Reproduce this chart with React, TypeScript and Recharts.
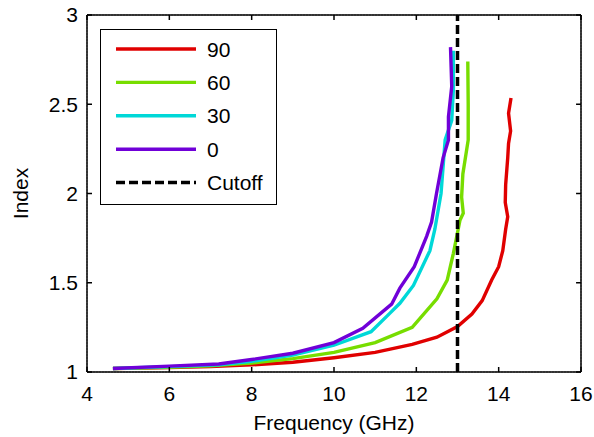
import React from "react";
import { LineChart, Line, XAxis, YAxis, CartesianGrid, ReferenceLine } from "recharts";

type Pt = { x: number; y: number };

// Effective index versus frequency for each rotation angle (degrees)
const series90: Pt[] = [
  { x: 4.63, y: 1.02 }, { x: 6, y: 1.025 }, { x: 7, y: 1.03 }, { x: 8, y: 1.04 },
  { x: 9, y: 1.055 }, { x: 10, y: 1.08 }, { x: 11, y: 1.11 }, { x: 11.9, y: 1.155 },
  { x: 12.5, y: 1.195 }, { x: 13.0, y: 1.255 }, { x: 13.35, y: 1.325 }, { x: 13.6, y: 1.4 },
  { x: 13.83, y: 1.515 }, { x: 14.0, y: 1.59 }, { x: 14.1, y: 1.68 }, { x: 14.17, y: 1.8 },
  { x: 14.22, y: 1.87 }, { x: 14.16, y: 1.95 }, { x: 14.17, y: 2.05 }, { x: 14.22, y: 2.2 },
  { x: 14.24, y: 2.28 }, { x: 14.29, y: 2.35 }, { x: 14.24, y: 2.45 }, { x: 14.3, y: 2.535 },
];
const series60: Pt[] = [
  { x: 4.63, y: 1.02 }, { x: 6, y: 1.027 }, { x: 7, y: 1.035 }, { x: 8, y: 1.05 },
  { x: 9, y: 1.075 }, { x: 10, y: 1.11 }, { x: 11, y: 1.165 }, { x: 11.9, y: 1.25 },
  { x: 12.5, y: 1.41 }, { x: 12.75, y: 1.515 }, { x: 12.9, y: 1.665 }, { x: 13.06, y: 1.85 },
  { x: 13.14, y: 1.89 }, { x: 13.1, y: 1.98 }, { x: 13.13, y: 2.11 }, { x: 13.26, y: 2.3 },
  { x: 13.26, y: 2.5 }, { x: 13.25, y: 2.74 },
];
const series30: Pt[] = [
  { x: 4.63, y: 1.02 }, { x: 6, y: 1.03 }, { x: 7.2, y: 1.04 }, { x: 8, y: 1.06 },
  { x: 9, y: 1.095 }, { x: 10, y: 1.15 }, { x: 10.9, y: 1.226 }, { x: 11.36, y: 1.33 },
  { x: 11.6, y: 1.385 }, { x: 11.93, y: 1.485 }, { x: 12.33, y: 1.68 }, { x: 12.45, y: 1.8 },
  { x: 12.6, y: 2.0 }, { x: 12.7, y: 2.3 }, { x: 12.86, y: 2.41 }, { x: 12.9, y: 2.58 },
  { x: 12.9, y: 2.8 },
];
const series0: Pt[] = [
  { x: 4.63, y: 1.02 }, { x: 6, y: 1.033 }, { x: 7.2, y: 1.045 }, { x: 8, y: 1.07 },
  { x: 9, y: 1.105 }, { x: 10, y: 1.165 }, { x: 10.7, y: 1.245 }, { x: 11.4, y: 1.38 },
  { x: 11.6, y: 1.47 }, { x: 11.95, y: 1.59 }, { x: 12.25, y: 1.76 }, { x: 12.37, y: 1.84 },
  { x: 12.49, y: 2.0 }, { x: 12.65, y: 2.2 }, { x: 12.78, y: 2.3 }, { x: 12.78, y: 2.43 },
  { x: 12.86, y: 2.6 }, { x: 12.83, y: 2.82 },
];

const cutoffFreq = 13;
const xTicks = [4, 6, 8, 10, 12, 14, 16];
const yTicks = [1, 1.5, 2, 2.5, 3];

const seriesList = [
  { name: "90", data: series90, color: "#e00000" },
  { name: "60", data: series60, color: "#77dd00" },
  { name: "30", data: series30, color: "#00d8d8" },
  { name: "0", data: series0, color: "#7000d8" },
];

const FONT = "'Liberation Sans', Arial, sans-serif";
const CUTOFF_DASH = "9 4";
const LINE_W = 3.4;

function LegendBox() {
  const rows = [
    ...seriesList.map((s) => ({ name: s.name, color: s.color, dash: undefined as string | undefined })),
    { name: "Cutoff", color: "#000000", dash: CUTOFF_DASH },
  ];
  return (
    <svg width={177} height={176} style={{ display: "block" }}>
      <rect x={0.5} y={0.5} width={176} height={175} fill="#ffffff" stroke="#000000" strokeWidth={1} />
      {rows.map((r, i) => {
        const cy = 20 + i * 33.4;
        return (
          <g key={r.name}>
            <line x1={16} x2={96} y1={cy} y2={cy} stroke={r.color} strokeWidth={r.dash ? 3.5 : LINE_W} strokeDasharray={r.dash} />
            <text x={107} y={cy} dy="0.36em" fontFamily={FONT} fontSize={21} fill="#000">
              {r.name}
            </text>
          </g>
        );
      })}
    </svg>
  );
}

const frameAxis = { stroke: "#000", strokeWidth: 1.5 };

export default function App() {
  return (
    <div style={{ position: "absolute", left: 0, top: 0, width: 594, height: 437, background: "#fff" }}>
      <LineChart width={594} height={437} margin={{ top: 15, right: 13, left: 0, bottom: 0 }}>
        <CartesianGrid stroke="#8c8c8c" strokeDasharray="2 1" strokeWidth={1} />
        <XAxis
          xAxisId="bottom"
          type="number"
          dataKey="x"
          domain={[4, 16]}
          ticks={xTicks}
          interval={0}
          height={65}
          tickSize={-5}
          tickMargin={19}
          axisLine={frameAxis}
          tickLine={frameAxis}
          tick={{ fill: "#000", fontSize: 21, fontFamily: FONT }}
          allowDataOverflow
          label={{ value: "Frequency (GHz)", position: "insideBottom", offset: 7, fill: "#000", fontSize: 21, fontFamily: FONT }}
        />
        <YAxis
          yAxisId="left"
          type="number"
          domain={[1, 3]}
          ticks={yTicks}
          interval={0}
          width={87}
          tickSize={-5}
          tickMargin={14}
          axisLine={frameAxis}
          tickLine={frameAxis}
          tick={{ fill: "#000", fontSize: 21, fontFamily: FONT }}
          allowDataOverflow
          label={{ value: "Index", angle: -90, position: "insideLeft", offset: 21, fill: "#000", fontSize: 21, fontFamily: FONT, style: { textAnchor: "middle" } }}
        />
        {seriesList.map((s) => (
          <Line
            key={s.name}
            xAxisId="bottom"
            yAxisId="left"
            data={s.data}
            dataKey="y"
            name={s.name}
            type="linear"
            stroke={s.color}
            strokeWidth={LINE_W}
            dot={false}
            activeDot={false}
            isAnimationActive={false}
          />
        ))}
        <ReferenceLine
          xAxisId="bottom"
          yAxisId="left"
          x={cutoffFreq}
          stroke="#000"
          strokeWidth={3.5}
          strokeDasharray={CUTOFF_DASH}
        />
        {/* box frame along the top and right edges */}
        <ReferenceLine xAxisId="bottom" yAxisId="left" y={3} stroke="#000" strokeWidth={1.5} />
        <ReferenceLine xAxisId="bottom" yAxisId="left" x={16} stroke="#000" strokeWidth={1.5} />
        {/* inward tick marks on the top and right edges */}
        {xTicks.map((t) => (
          <ReferenceLine
            key={"tt" + t}
            xAxisId="bottom"
            yAxisId="left"
            segment={[{ x: t, y: 3 }, { x: t, y: 2.972 }]}
            stroke="#000"
            strokeWidth={1.5}
          />
        ))}
        {yTicks.map((t) => (
          <ReferenceLine
            key={"rt" + t}
            xAxisId="bottom"
            yAxisId="left"
            segment={[{ x: 16, y: t }, { x: 15.88, y: t }]}
            stroke="#000"
            strokeWidth={1.5}
          />
        ))}
      </LineChart>
      <div style={{ position: "absolute", left: 100, top: 29 }}>
        <LegendBox />
      </div>
    </div>
  );
}
